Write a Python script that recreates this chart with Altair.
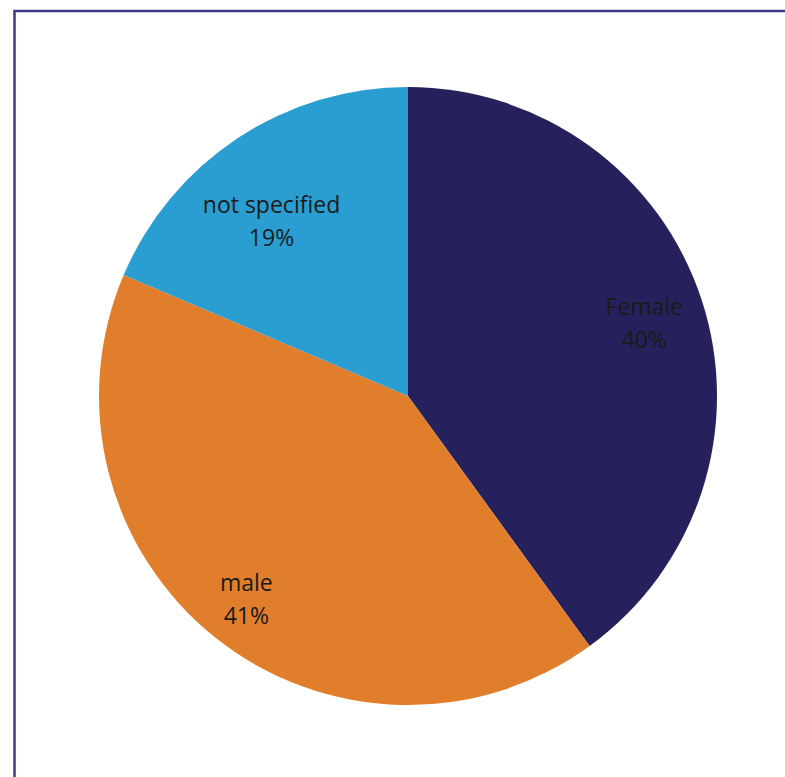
import altair as alt
import pandas as pd

categories = ["Female", "male", "not specified"]
values = [40.0, 41.4, 18.6]
labels = ["Female\n40%", "male\n41%", "not specified\n19%"]
colors = ["#26215c", "#e07e2b", "#2a9ed0"]

df = pd.DataFrame({"category": categories, "value": values, "label": labels,
                   "order": [0, 1, 2]})

cx, cy, R = 408, 396, 309

base = alt.Chart(df).encode(
    theta=alt.Theta("value:Q", stack=True),
    order=alt.Order("order:Q"),
)

pie = base.mark_arc(stroke=None).encode(
    x=alt.value(cx), y=alt.value(cy), radius=alt.value(R),
    color=alt.Color("category:N", scale=alt.Scale(domain=categories, range=colors), legend=None),
)

# per-label nudges (style only)
nudge = {"Female": (6, -13), "male": (-11, -1), "not specified": (-3, 12)}
texts = []
for cat, (ddx, ddy) in nudge.items():
    texts.append(
        base.mark_text(font="Open Sans", fontSize=23, lineBreak="\n", color="#1a1a1a",
                       align="center", baseline="middle", lineHeight=33,
                       dx=ddx, dy=ddy).encode(
            x=alt.value(cx), y=alt.value(cy), radius=alt.value(242),
            text="label:N",
            opacity=alt.condition(alt.datum.category == cat, alt.value(1), alt.value(0)),
        )
    )

border = alt.Chart(pd.DataFrame({"a": [0]})).mark_rect(
    fill=None, stroke="#3c3c8c", strokeWidth=2.5
).encode(x=alt.value(14.5), y=alt.value(11), x2=alt.value(820), y2=alt.value(820))

chart = alt.layer(border, pie, *texts).properties(
    width=785, height=777, padding=0, autosize=alt.AutoSizeParams(type="none"),
    background="white",
).configure_view(stroke=None)

chart.save("out.html", embed_options={"renderer": "svg", "actions": False})
